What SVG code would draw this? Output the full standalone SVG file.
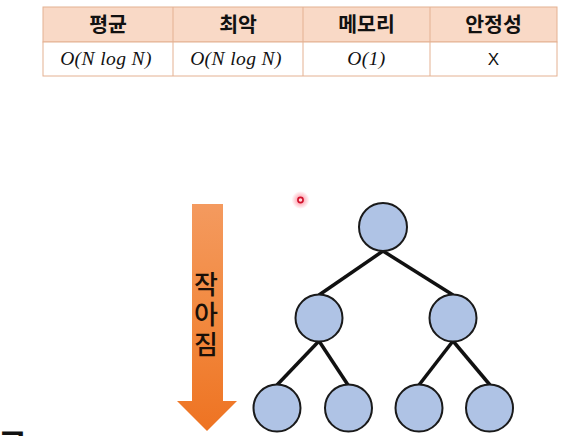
<svg xmlns="http://www.w3.org/2000/svg" width="574" height="436" viewBox="0 0 574 436">
<style>
.hd{font-family:"Noto Sans CJK KR","Noto Sans",sans-serif;font-weight:bold;font-size:20.5px;fill:#111;text-anchor:middle}
.math{font-family:"Liberation Serif","DejaVu Serif",serif;font-style:italic;font-size:19.5px;letter-spacing:0.4px;fill:#111;text-anchor:middle}
.sans{font-family:"Liberation Sans",Arial,sans-serif;font-size:17px;fill:#111;text-anchor:middle}
.cell{stroke:#E4B192;stroke-width:1}
.node{fill:#AFC3E5;stroke:#1a1a1a;stroke-width:2}
.edge{stroke:#111;stroke-width:3.5;stroke-linecap:butt}
.arrowtxt{font-family:"Noto Sans CJK KR","Noto Sans",sans-serif;font-weight:500;font-size:26px;fill:#1a1008;writing-mode:vertical-rl;text-orientation:upright;letter-spacing:4px}
</style>
<defs>
<linearGradient id="og" x1="0" y1="0" x2="0" y2="1">
<stop offset="0" stop-color="#F49A5F"/>
<stop offset="0.5" stop-color="#F2893F"/>
<stop offset="1" stop-color="#EE7322"/>
</linearGradient>
<radialGradient id="glow">
<stop offset="0" stop-color="#ff2040" stop-opacity="0.55"/>
<stop offset="1" stop-color="#ff2040" stop-opacity="0"/>
</radialGradient>
</defs>
<rect width="574" height="436" fill="#fff"/>
<g id="table">
<rect x="43" y="7" width="514" height="35" fill="#F9D9C6" class="cell"/>
<rect x="43" y="42" width="514" height="34" fill="#fff" class="cell"/>
<line x1="173" y1="7" x2="173" y2="76" class="cell"/>
<line x1="303" y1="7" x2="303" y2="76" class="cell"/>
<line x1="430" y1="7" x2="430" y2="76" class="cell"/>
<text x="108" y="31.5" class="hd">평균</text>
<text x="238" y="31.5" class="hd">최악</text>
<text x="366.5" y="31.5" class="hd">메모리</text>
<text x="493.5" y="31.5" class="hd">안정성</text>
<text x="106" y="65" class="math">O(N log N)</text>
<text x="236" y="65" class="math">O(N log N)</text>
<text x="366.5" y="65" class="math">O(1)</text>
<text x="493.5" y="65" class="sans">X</text>
</g>
<g id="pointer">
<circle cx="300.5" cy="200" r="9" fill="url(#glow)"/>
<circle cx="300.5" cy="200" r="2.6" fill="#ffd6dc" stroke="#d0102a" stroke-width="1.6"/>
</g>
<g id="arrow">
<path d="M192,204 H223 V401 H237 L207,431 L177,401 H192 Z" fill="url(#og)"/>
<text x="206" y="271" class="arrowtxt">작아짐</text>
</g>
<g id="connectors">
<line x1="383" y1="251" x2="319" y2="295" class="edge"/>
<line x1="383" y1="251" x2="453" y2="295" class="edge"/>
<line x1="319" y1="341" x2="277" y2="385" class="edge"/>
<line x1="319" y1="341" x2="348" y2="385" class="edge"/>
<line x1="453" y1="341" x2="419" y2="385" class="edge"/>
<line x1="453" y1="341" x2="490" y2="385" class="edge"/>
</g>
<g id="n1"><circle cx="383" cy="227" r="24" class="node"/></g>
<g id="n2"><circle cx="319" cy="318" r="23.5" class="node"/></g>
<g id="n3"><circle cx="453" cy="318" r="23.5" class="node"/></g>
<g id="n4"><circle cx="277" cy="408" r="23.5" class="node"/></g>
<g id="n5"><circle cx="348.5" cy="408" r="23.5" class="node"/></g>
<g id="n6"><circle cx="419" cy="408" r="23.5" class="node"/></g>
<g id="n7"><circle cx="489.5" cy="408" r="23.5" class="node"/></g>
<text x="-2" y="456" font-family="Noto Sans CJK KR, sans-serif" font-weight="bold" font-size="32" fill="#111">그</text>
</svg>
